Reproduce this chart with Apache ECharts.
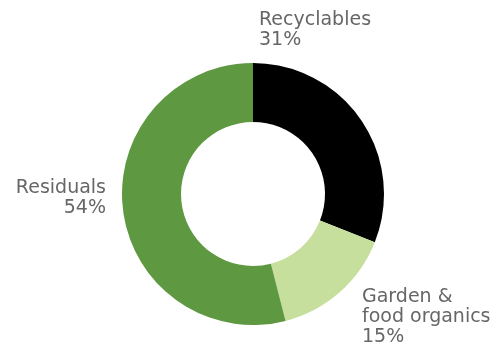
<!DOCTYPE html>
<html><head><meta charset="utf-8">
<script src="https://cdn.jsdelivr.net/npm/echarts@6/dist/echarts.min.js"></script>
<style>html,body{margin:0;padding:0;background:#fff}#c{width:493px;height:347px}</style>
</head><body><div id="c"></div>
<script>
var categories = ['Recyclables', 'Garden &\nfood organics', 'Residuals'];
var values = [31, 15, 54];
var colors = ['#000000', '#c6df9c', '#5e9841'];

var labelPos = [
  {x: 259, y: 10, align: 'left'},
  {x: 362, y: 287, align: 'left'},
  {x: 106, y: 178, align: 'right'}
];

var chart = echarts.init(document.getElementById('c'));
chart.setOption({
  animation: false,
  series: [{
    type: 'pie',
    center: [253, 194],
    radius: [72, 131],
    startAngle: 90,
    clockwise: true,
    avoidLabelOverlap: false,
    data: categories.map(function (c, i) {
      return {name: c, value: values[i], itemStyle: {color: colors[i]}};
    }),
    label: {
      show: true,
      position: 'outside',
      formatter: function (p) { return p.name + '\n' + p.value + '%'; },
      color: '#666666',
      fontFamily: 'DejaVu Sans',
      fontSize: 19,
      lineHeight: 20
    },
    labelLine: {show: false},
    labelLayout: function (p) {
      var lp = labelPos[p.dataIndex];
      return {x: lp.x, y: lp.y, align: lp.align, verticalAlign: 'top'};
    },
    emphasis: {disabled: true}
  }]
});
</script></body></html>
